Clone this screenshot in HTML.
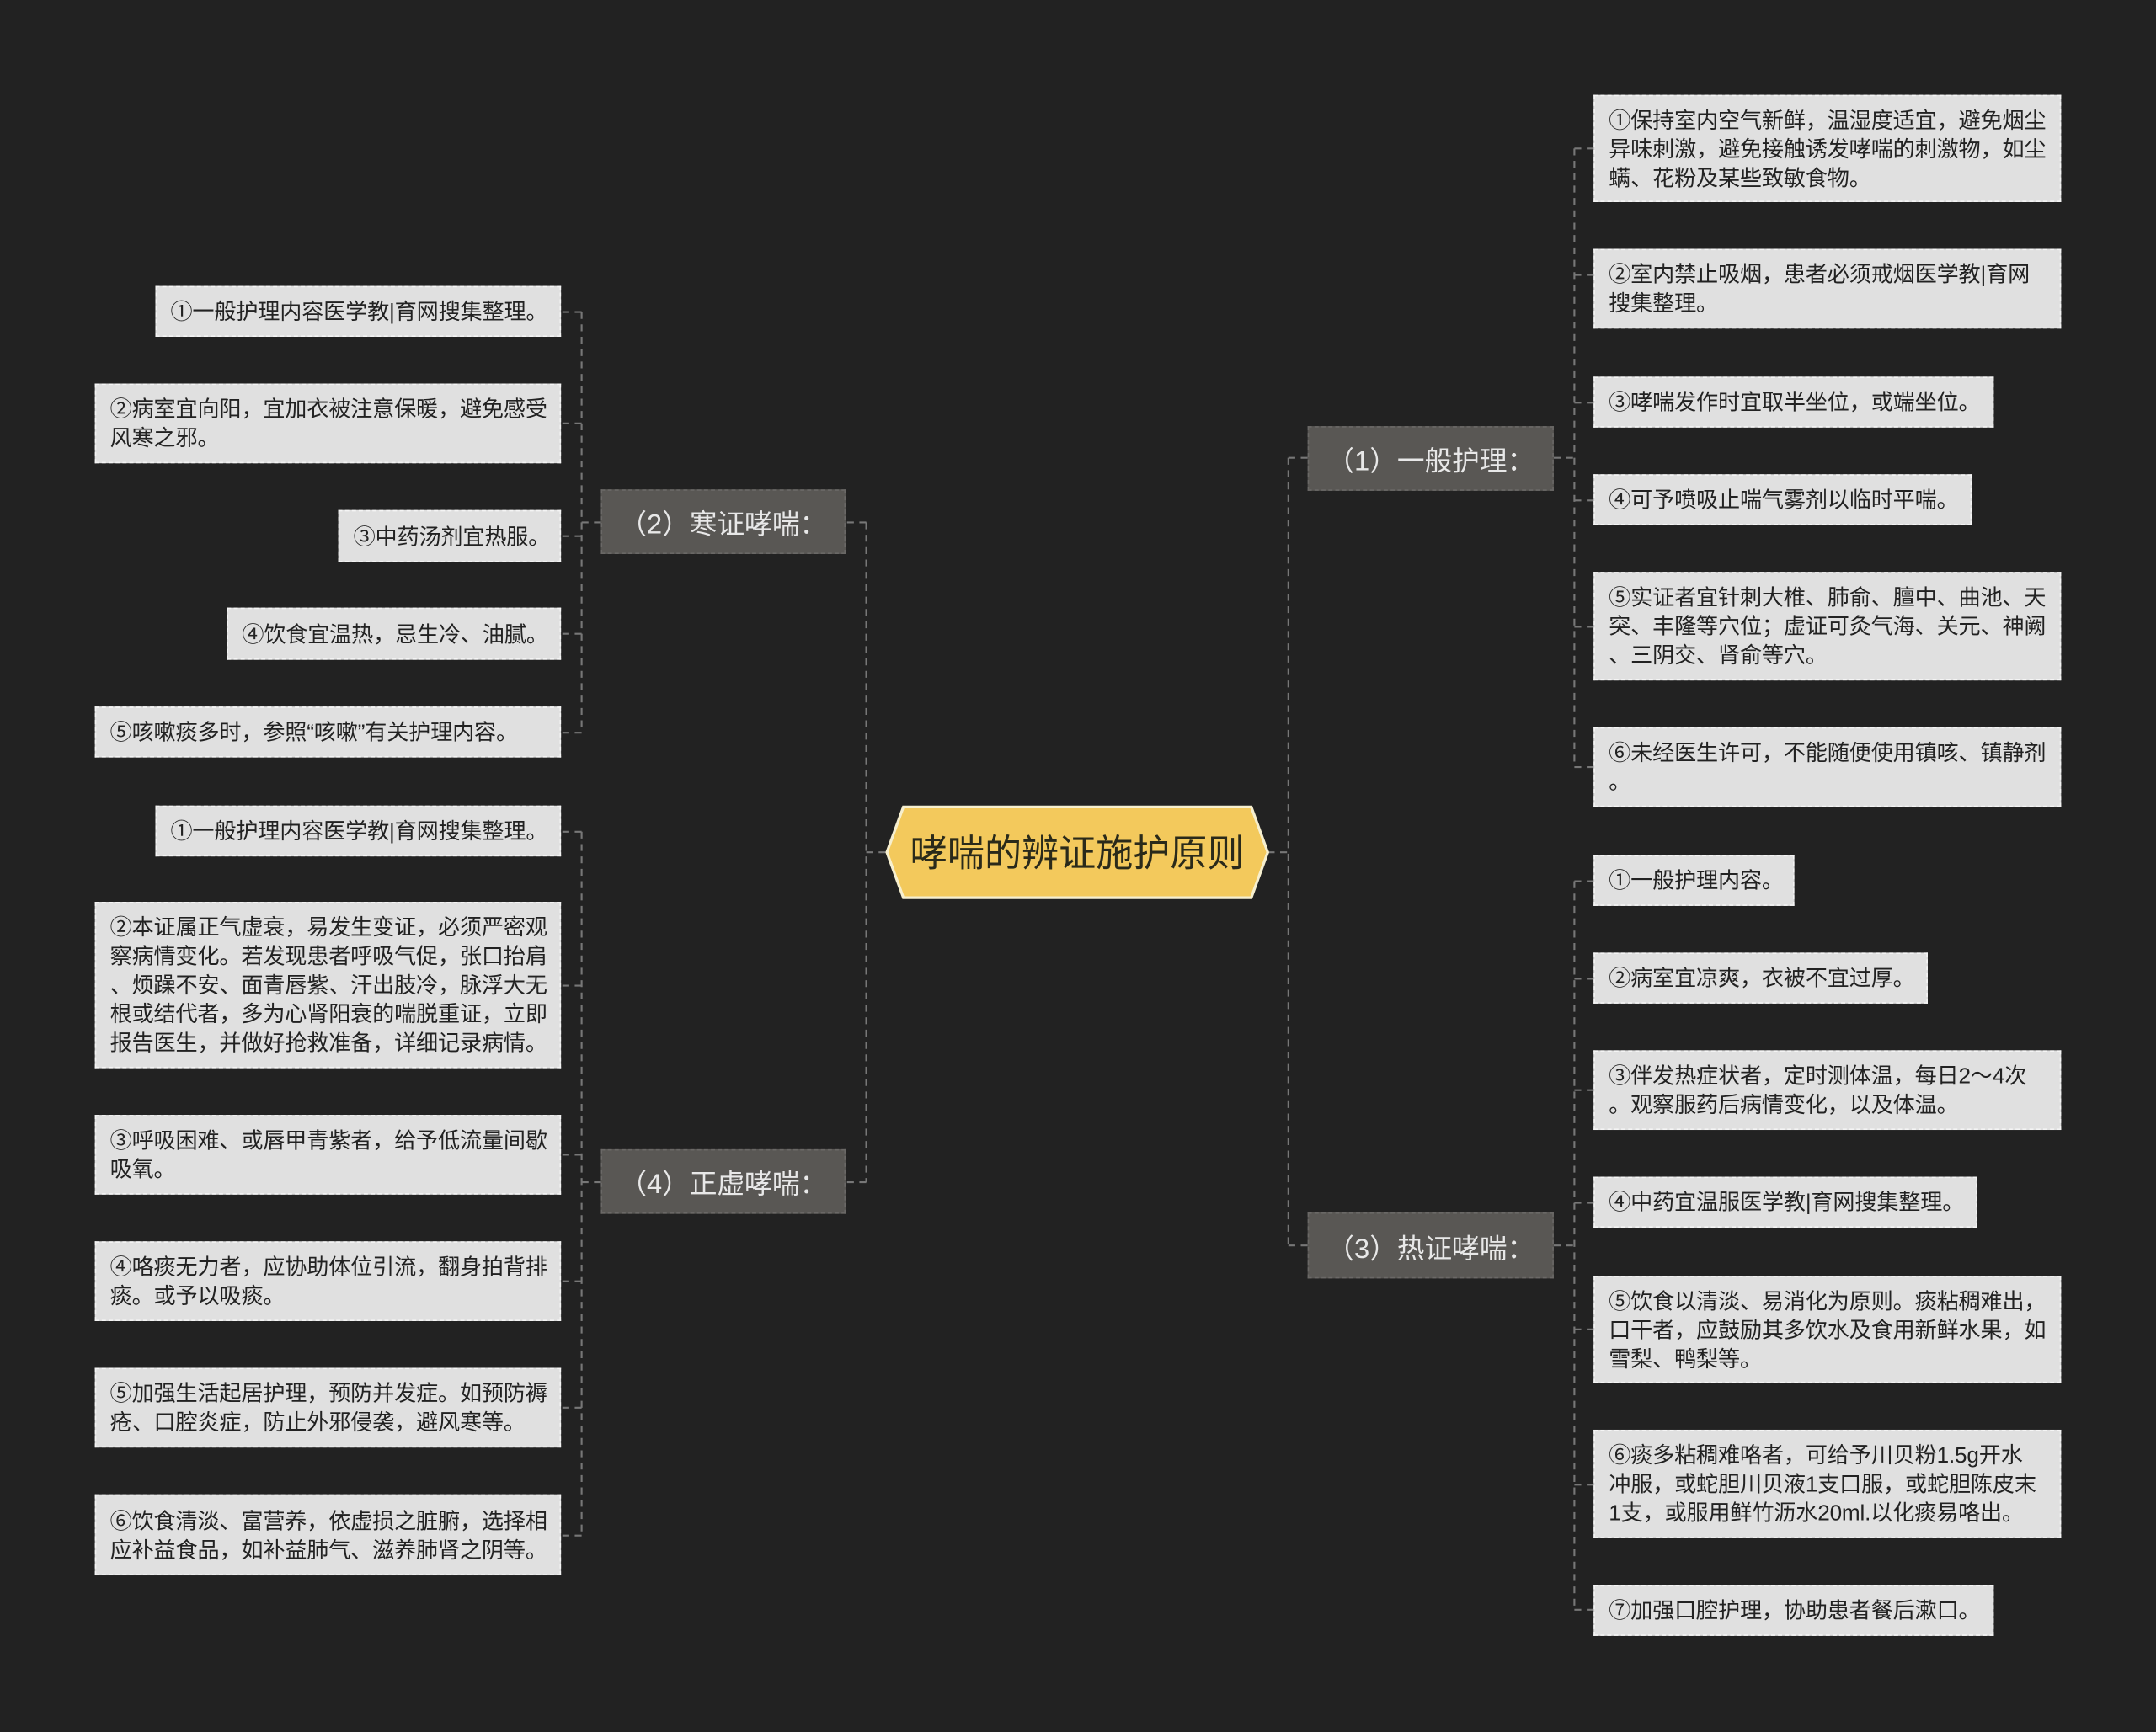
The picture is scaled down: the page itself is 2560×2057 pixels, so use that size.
<!DOCTYPE html>
<html><head><meta charset="utf-8">
<style>
html,body{margin:0;padding:0;background:#222222;}
body{width:2560px;height:2057px;overflow:hidden;position:relative;}
#w{position:absolute;left:0;top:0;width:1568px;height:1260px;transform:scale(1.63265);transform-origin:0 0;font-family:"Liberation Sans","Noto Sans CJK SC",sans-serif;}
.l{position:absolute;background:#e0e0e0;border:1px dashed #f4f4f4;box-sizing:border-box;color:#222;font-size:16px;line-height:21px;padding:2px 0 0 10px;display:flex;align-items:center;white-space:nowrap;letter-spacing:-0.1px;}
.b{position:absolute;background:#595754;border:1px dashed #6a6866;box-sizing:border-box;color:#e8e8e8;font-size:20px;display:flex;align-items:center;justify-content:center;white-space:nowrap;}
svg{position:absolute;left:0;top:0;}
</style></head><body><div id="w">
<svg width="1568" height="1260">
<g stroke="#777" stroke-width="1.3" stroke-dasharray="5,4" fill="none">
<path d="M922 620H937M937 333V906M937 333H951M937 906H951"/>
<path d="M644 620H630M630 380V860M630 380H615M630 860H615"/>
<path d="M1130 333H1145M1145 108V558M1145 108H1159M1145 200H1159M1145 293H1159M1145 364H1159M1145 456H1159M1145 558H1159"/>
<path d="M1130 906H1145M1145 641V1171M1145 641H1159M1145 712H1159M1145 793H1159M1145 875H1159M1145 967H1159M1145 1080H1159M1145 1171H1159"/>
<path d="M437 380H423M423 227V533M423 227H408M423 308H408M423 390H408M423 461H408M423 533H408"/>
<path d="M437 860H423M423 605V1117M423 605H408M423 717H408M423 840H408M423 932H408M423 1024H408M423 1117H408"/>
</g>
<polygon points="645,620 657,587 910,587 922,620 910,653 657,653" fill="#f3c95c" stroke="#f6efcf" stroke-width="2"/>
<text x="783.5" y="630" text-anchor="middle" font-size="27" fill="#2a2a1a" font-family="Liberation Sans, Noto Sans CJK SC, sans-serif">哮喘的辨证施护原则</text>
</svg>

<div class="b" style="left:951px;top:310px;width:179px;height:47px">（1）一般护理：</div>
<div class="b" style="left:951px;top:882px;width:179px;height:48px">（3）热证哮喘：</div>
<div class="b" style="left:437px;top:356px;width:178px;height:47px">（2）寒证哮喘：</div>
<div class="b" style="left:437px;top:836px;width:178px;height:47px">（4）正虚哮喘：</div>

<div class="l" style="left:1159px;top:69px;width:340px;height:78px">①保持室内空气新鲜，温湿度适宜，避免烟尘<br>异味刺激，避免接触诱发哮喘的刺激物，如尘<br>螨、花粉及某些致敏食物。</div>
<div class="l" style="left:1159px;top:181px;width:340px;height:58px">②室内禁止吸烟，患者必须戒烟医学教|育网<br>搜集整理。</div>
<div class="l" style="left:1159px;top:274px;width:291px;height:37px">③哮喘发作时宜取半坐位，或端坐位。</div>
<div class="l" style="left:1159px;top:345px;width:275px;height:37px">④可予喷吸止喘气雾剂以临时平喘。</div>
<div class="l" style="left:1159px;top:416px;width:340px;height:79px">⑤实证者宜针刺大椎、肺俞、膻中、曲池、天<br>突、丰隆等穴位；虚证可灸气海、关元、神阙<br>、三阴交、肾俞等穴。</div>
<div class="l" style="left:1159px;top:529px;width:340px;height:58px">⑥未经医生许可，不能随便使用镇咳、镇静剂<br>。</div>

<div class="l" style="left:1159px;top:622px;width:146px;height:37px">①一般护理内容。</div>
<div class="l" style="left:1159px;top:693px;width:243px;height:37px">②病室宜凉爽，衣被不宜过厚。</div>
<div class="l" style="left:1159px;top:764px;width:340px;height:58px">③伴发热症状者，定时测体温，每日2～4次<br>。观察服药后病情变化，以及体温。</div>
<div class="l" style="left:1159px;top:856px;width:279px;height:37px">④中药宜温服医学教|育网搜集整理。</div>
<div class="l" style="left:1159px;top:928px;width:340px;height:78px">⑤饮食以清淡、易消化为原则。痰粘稠难出，<br>口干者，应鼓励其多饮水及食用新鲜水果，如<br>雪梨、鸭梨等。</div>
<div class="l" style="left:1159px;top:1040px;width:340px;height:79px">⑥痰多粘稠难咯者，可给予川贝粉1.5g开水<br>冲服，或蛇胆川贝液1支口服，或蛇胆陈皮末<br>1支，或服用鲜竹沥水20ml.以化痰易咯出。</div>
<div class="l" style="left:1159px;top:1153px;width:291px;height:37px">⑦加强口腔护理，协助患者餐后漱口。</div>

<div class="l" style="left:113px;top:208px;width:295px;height:37px">①一般护理内容医学教|育网搜集整理。</div>
<div class="l" style="left:69px;top:279px;width:339px;height:58px">②病室宜向阳，宜加衣被注意保暖，避免感受<br>风寒之邪。</div>
<div class="l" style="left:246px;top:371px;width:162px;height:38px">③中药汤剂宜热服。</div>
<div class="l" style="left:165px;top:442px;width:243px;height:38px">④饮食宜温热，忌生冷、油腻。</div>
<div class="l" style="left:69px;top:514px;width:339px;height:37px">⑤咳嗽痰多时，参照“咳嗽”有关护理内容。</div>

<div class="l" style="left:113px;top:586px;width:295px;height:37px">①一般护理内容医学教|育网搜集整理。</div>
<div class="l" style="left:69px;top:656px;width:339px;height:121px">②本证属正气虚衰，易发生变证，必须严密观<br>察病情变化。若发现患者呼吸气促，张口抬肩<br>、烦躁不安、面青唇紫、汗出肢冷，脉浮大无<br>根或结代者，多为心肾阳衰的喘脱重证，立即<br>报告医生，并做好抢救准备，详细记录病情。</div>
<div class="l" style="left:69px;top:811px;width:339px;height:58px">③呼吸困难、或唇甲青紫者，给予低流量间歇<br>吸氧。</div>
<div class="l" style="left:69px;top:903px;width:339px;height:58px">④咯痰无力者，应协助体位引流，翻身拍背排<br>痰。或予以吸痰。</div>
<div class="l" style="left:69px;top:995px;width:339px;height:58px">⑤加强生活起居护理，预防并发症。如预防褥<br>疮、口腔炎症，防止外邪侵袭，避风寒等。</div>
<div class="l" style="left:69px;top:1087px;width:339px;height:59px">⑥饮食清淡、富营养，依虚损之脏腑，选择相<br>应补益食品，如补益肺气、滋养肺肾之阴等。</div>
</div></body></html>
